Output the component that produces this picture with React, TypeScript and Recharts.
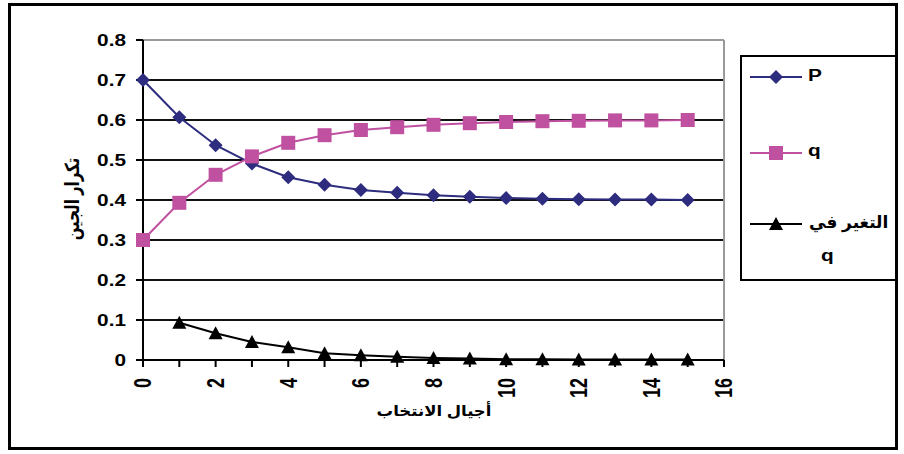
import React from 'react';
import { LineChart, Line, XAxis, YAxis, CartesianGrid, ReferenceLine, Legend } from 'recharts';

const generations = [0, 1, 2, 3, 4, 5, 6, 7, 8, 9, 10, 11, 12, 13, 14, 15];
const pValues = [0.7, 0.607, 0.537, 0.491, 0.457, 0.438, 0.425, 0.418, 0.412, 0.408, 0.405, 0.403, 0.402, 0.401, 0.401, 0.4];
const qValues = [0.3, 0.393, 0.463, 0.509, 0.543, 0.562, 0.575, 0.582, 0.588, 0.592, 0.595, 0.597, 0.598, 0.599, 0.599, 0.6];
const deltaQValues = [null, 0.093, 0.067, 0.045, 0.032, 0.017, 0.012, 0.008, 0.005, 0.004, 0.002, 0.002, 0.001, 0.001, 0.001, 0.001];
const xTicks = [0, 1, 2, 3, 4, 5, 6, 7, 8, 9, 10, 11, 12, 13, 14, 15, 16];
const yTicks = [0, 0.1, 0.2, 0.3, 0.4, 0.5, 0.6, 0.7, 0.8];
const seriesNames = ['P', 'q', 'التغير في', 'q'];
const yAxisTitle = 'تكرار الجين';
const xAxisTitle = 'أجيال الانتخاب';

const P_COLOR = '#2D2C7E';
const Q_COLOR = '#C050A0';
const D_COLOR = '#000000';
const FONT = '"Liberation Sans", Arial, "DejaVu Sans", sans-serif';
const SX = 1.3;

const data = generations.map((g, i) => ({ g, p: pValues[i], q: qValues[i], dq: deltaQValues[i] }));

const Diamond = (props: any) => {
  const { cx, cy } = props;
  if (cx == null || cy == null || isNaN(cy)) return <g key={props.key} />;
  return <polygon key={props.key} points={`${cx},${cy - 7} ${cx + 7},${cy} ${cx},${cy + 7} ${cx - 7},${cy}`} fill={P_COLOR} />;
};
const Square = (props: any) => {
  const { cx, cy } = props;
  if (cx == null || cy == null || isNaN(cy)) return <g key={props.key} />;
  return <rect key={props.key} x={cx - 7} y={cy - 7} width={14} height={14} fill={Q_COLOR} />;
};
const Triangle = (props: any) => {
  const { cx, cy } = props;
  if (cx == null || cy == null || isNaN(cy)) return <g key={props.key} />;
  return <polygon key={props.key} points={`${cx},${cy - 7} ${cx + 7},${cy + 6} ${cx - 7},${cy + 6}`} fill={D_COLOR} />;
};

const XTick = (props: any) => {
  const { x, y, payload } = props;
  if (payload.value % 2 !== 0) return <g />;
  return (
    <text transform={`translate(${x} ${y}) scale(${SX} 1) rotate(-90)`} textAnchor="end" dy="0.36em"
      fontSize={18} fontWeight="bold" fill="#000" fontFamily={FONT}>
      {payload.value}
    </text>
  );
};

const YTick = (props: any) => {
  const { x, y, payload } = props;
  const v = payload.value as number;
  return (
    <text transform={`translate(${x} ${y}) scale(${SX} 1)`} textAnchor="end" dy="0.36em"
      fontSize={16} fontWeight="bold" fill="#000" fontFamily={FONT}>
      {v === 0 ? '0' : v.toFixed(1)}
    </text>
  );
};

const LegendContent = () => {
  const item = (y: number, color: string, shape: React.ReactNode) => (
    <svg style={{ position: 'absolute', left: 6, top: y - 10 }} width={56} height={20}>
      <line x1={2} y1={10} x2={54} y2={10} stroke={color} strokeWidth={2} />
      {shape}
    </svg>
  );
  const label = (text: string, left: number, top: number, sx: number, size: number, rtl = false) => (
    <div style={{ position: 'absolute', left, top, fontSize: size, whiteSpace: 'nowrap', direction: rtl ? 'rtl' : 'ltr', transform: `scaleX(${sx})`, transformOrigin: '0 0' }}>{text}</div>
  );
  return (
    <div style={{ position: 'absolute', left: 0, top: 0, width: 153, height: 222, border: '2px solid #000', background: '#fff', fontFamily: FONT, fontWeight: 'bold', color: '#000' }}>
      {item(20, P_COLOR, <polygon points="28,3 35,10 28,17 21,10" fill={P_COLOR} />)}
      {label(seriesNames[0], 66, 10, SX, 16)}
      {item(96, Q_COLOR, <rect x={21} y={3} width={14} height={14} fill={Q_COLOR} />)}
      {label(seriesNames[1], 66, 85, SX, 16)}
      {item(167, D_COLOR, <polygon points="28,3 35,16 21,16" fill={D_COLOR} />)}
      {label(seriesNames[2], 67, 155, 1, 17, true)}
      {label(seriesNames[3], 79, 190, SX, 16)}
    </div>
  );
};

export default function App() {
  return (
    <div style={{ position: 'absolute', left: 0, top: 0, width: 904, height: 454, background: '#fff', fontFamily: FONT }}>
      <div style={{ position: 'absolute', left: 8, top: 3, width: 884, height: 441, border: '3px solid #000' }} />
      <div style={{ position: 'absolute', left: 0, top: 0 }}>
        <LineChart width={904} height={454} data={data} margin={{ top: 40, right: 180, bottom: 34, left: 83 }}>
          <CartesianGrid vertical={false} stroke="#111" strokeWidth={2} horizontalValues={yTicks} />
          <ReferenceLine y={0.8} stroke="#9a9a9a" strokeWidth={2} />
          <ReferenceLine x={16} stroke="#9a9a9a" strokeWidth={2} />
          <XAxis type="number" dataKey="g" domain={[0, 16]} ticks={xTicks} interval={0} height={60}
            tick={<XTick />} tickSize={7} tickMargin={11} stroke="#000" strokeWidth={2}
            tickLine={{ stroke: '#000', strokeWidth: 2 }}
            label={{ content: () => (
              <text transform={`translate(434 416) scale(1.1 1)`} textAnchor="middle" fontSize={15} fontWeight="bold" fill="#000" fontFamily={FONT}>{xAxisTitle}</text>
            ) }} />
          <YAxis type="number" domain={[0, 0.8]} ticks={yTicks} interval={0} width={60}
            tick={<YTick />}
            tickSize={7} tickMargin={10} stroke="#000" strokeWidth={2}
            tickLine={{ stroke: '#000', strokeWidth: 2 }}
            label={{ content: () => (
              <text transform={`translate(72 199) scale(${SX} 1) rotate(-90)`} textAnchor="middle" dominantBaseline="central" fontSize={15} fontWeight="bold" fill="#000" fontFamily={FONT}>{yAxisTitle}</text>
            ) }} />
          <Legend content={<LegendContent />} wrapperStyle={{ position: 'absolute', left: 740, top: 55, width: 0, height: 0, overflow: 'visible' }} />
          <Line dataKey="p" name={seriesNames[0]} stroke={P_COLOR} strokeWidth={2} dot={Diamond} isAnimationActive={false} />
          <Line dataKey="q" name={seriesNames[1]} stroke={Q_COLOR} strokeWidth={2} dot={Square} isAnimationActive={false} />
          <Line dataKey="dq" name={seriesNames[2] + ' ' + seriesNames[3]} stroke={D_COLOR} strokeWidth={2} dot={Triangle} isAnimationActive={false} />
        </LineChart>
      </div>
    </div>
  );
}
